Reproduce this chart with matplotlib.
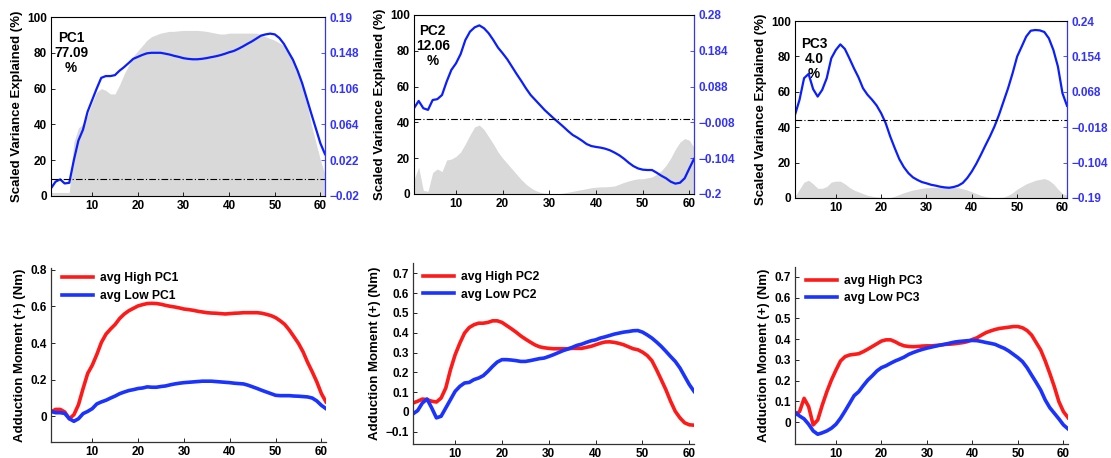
import numpy as np
import matplotlib
matplotlib.use("Agg")
import matplotlib.pyplot as plt

plt.rcParams['font.family'] = ['Liberation Sans', 'DejaVu Sans']
plt.rcParams['font.weight'] = 'bold'
plt.rcParams['axes.labelweight'] = 'bold'

frames = np.arange(1, 62)

# ---- top row: variance explained (%) and PC loading ----
pc_names = ["PC1", "PC2", "PC3"]
pc_pct = ["77.09", "12.06", "4.0"]

var1 = [2, 2, 2, 2, 2, 30, 38, 40, 45, 52, 58, 60, 59, 57, 57, 62, 68, 73, 78, 81,
        84, 87, 89, 90, 91, 91.5, 92, 92, 92.3, 92.5, 92.5, 92.5, 92.5, 92.3, 92, 91.5,
        91, 90.5, 90.5, 91, 91, 91, 91, 91, 91, 91, 90, 89, 88, 87, 85.5, 84, 81, 77,
        70, 62, 52, 40, 30, 20, 12]
var2 = [8, 15, 2, 1.5, 12, 14, 12.5, 19, 19.5, 21, 23.5, 28, 33, 37.5, 38.5, 36, 32,
        28, 23.5, 20, 17, 14, 11, 8, 5.5, 3.5, 2, 1, 0.5, 0.3, 0.2, 0.2, 0.5, 1, 1.5,
        2, 2.5, 3, 3.5, 3.8, 4, 4, 4.2, 4.5, 5.5, 6.5, 7.3, 8, 8.5, 8.5, 9, 9.5, 11,
        13, 16, 20, 25, 29, 31, 30, 26]
var3 = [1, 5, 9, 10, 8, 5.5, 5.5, 6.5, 9, 9.5, 9.5, 8, 6, 4.5, 3.5, 2.5, 1.5, 1, 0.6,
        0.4, 0.3, 0.3, 1, 2, 3, 3.8, 4.5, 5, 5.5, 5.8, 6, 6, 6, 6, 6, 6, 5.8, 5.2,
        4.5, 3.5, 2.5, 1.5, 0.8, 0.4, 0.3, 0.3, 0.5, 1.5, 3, 5, 6.5, 8, 9, 10, 10.5,
        11, 10, 8, 5, 2.5, 1.5]

load1 = [-0.011, -0.0032, -0.0005, -0.0053, -0.0045, 0.022, 0.0451, 0.0577, 0.0787,
         0.0924, 0.106, 0.1186, 0.1207, 0.1207, 0.1218, 0.127, 0.1312, 0.136, 0.1409,
         0.1432, 0.1455, 0.1474, 0.148, 0.148, 0.148, 0.147, 0.1459, 0.1444, 0.1432,
         0.1417, 0.1409, 0.1404, 0.1404, 0.1409, 0.1417, 0.1428, 0.1438, 0.1451,
         0.1467, 0.1486, 0.1501, 0.1526, 0.1554, 0.1585, 0.1614, 0.1648, 0.1682,
         0.1696, 0.1705, 0.1696, 0.1654, 0.1585, 0.149, 0.1396, 0.127, 0.1123,
         0.0945, 0.0766, 0.0592, 0.0417, 0.0291]
load2 = [0.030, 0.0496, 0.030, 0.0256, 0.052, 0.0544, 0.0654, 0.1014, 0.1326, 0.1504,
         0.1754, 0.2128, 0.2354, 0.2469, 0.2522, 0.2445, 0.231, 0.2128, 0.1926,
         0.1773, 0.161, 0.1413, 0.1216, 0.1029, 0.0832, 0.0654, 0.052, 0.0386, 0.0251,
         0.0136, 0.0021, -0.0085, -0.0195, -0.031, -0.0416, -0.0488, -0.057, -0.0661,
         -0.0714, -0.0738, -0.0757, -0.0786, -0.0829, -0.0891, -0.0963, -0.1054,
         -0.116, -0.1251, -0.1314, -0.1347, -0.1357, -0.1357, -0.1429, -0.151,
         -0.1578, -0.1669, -0.1722, -0.1698, -0.1578, -0.1314, -0.1059]
load3 = [0.0121, 0.0487, 0.1011, 0.1114, 0.0745, 0.0564, 0.0727, 0.1011, 0.1493,
         0.1695, 0.1832, 0.1721, 0.1493, 0.1252, 0.1033, 0.0766, 0.0607, 0.0487,
         0.0349, 0.016, -0.0081, -0.0404, -0.0687, -0.0954, -0.1148, -0.1294, -0.1397,
         -0.1461, -0.1513, -0.1543, -0.1578, -0.1599, -0.1625, -0.1642, -0.1651,
         -0.1633, -0.1599, -0.1535, -0.1414, -0.1255, -0.1066, -0.0851, -0.0623,
         -0.0404, -0.0163, 0.0121, 0.0444, 0.0766, 0.1132, 0.1536, 0.1777, 0.2022,
         0.2164, 0.2181, 0.2172, 0.2133, 0.1979, 0.1695, 0.1291, 0.0646, 0.034]

right_ticklabels = [
    ["\u22120.02", "0.022", "0.064", "0.106", "0.148", "0.19"],
    ["\u22120.2", "\u22120.104", "\u22120.008", "0.088", "0.184", "0.28"],
    ["\u22120.19", "\u22120.104", "\u22120.018", "0.068", "0.154", "0.24"],
]
right_lims = [(-0.02, 0.19), (-0.2, 0.28), (-0.19, 0.24)]

# ---- bottom row: adduction moment ----
high1 = [0.024, 0.038, 0.038, 0.024, -0.013, 0.009, 0.064, 0.152, 0.234, 0.279, 0.338,
         0.404, 0.449, 0.477, 0.502, 0.535, 0.559, 0.577, 0.59, 0.603, 0.61, 0.616,
         0.617, 0.616, 0.612, 0.606, 0.601, 0.597, 0.592, 0.586, 0.583, 0.579, 0.574,
         0.57, 0.566, 0.564, 0.563, 0.561, 0.559, 0.561, 0.563, 0.564, 0.566, 0.566,
         0.566, 0.566, 0.563, 0.557, 0.55, 0.539, 0.522, 0.502, 0.471, 0.435, 0.398,
         0.352, 0.294, 0.243, 0.188, 0.124, 0.079]
low1 = [0.027, 0.02, 0.02, 0.016, -0.013, -0.027, -0.013, 0.015, 0.027, 0.042, 0.068,
        0.079, 0.088, 0.1, 0.111, 0.124, 0.133, 0.141, 0.146, 0.152, 0.155, 0.161,
        0.159, 0.159, 0.163, 0.166, 0.172, 0.177, 0.181, 0.184, 0.186, 0.188, 0.19,
        0.192, 0.192, 0.192, 0.19, 0.188, 0.186, 0.184, 0.181, 0.179, 0.177, 0.17,
        0.161, 0.152, 0.142, 0.133, 0.124, 0.115, 0.113, 0.113, 0.113, 0.111, 0.11,
        0.108, 0.106, 0.1, 0.084, 0.06, 0.042]
high2 = [0.045, 0.054, 0.065, 0.062, 0.054, 0.05, 0.07, 0.121, 0.213, 0.289, 0.347,
         0.398, 0.426, 0.44, 0.448, 0.448, 0.452, 0.46, 0.46, 0.452, 0.436, 0.42,
         0.403, 0.384, 0.368, 0.353, 0.339, 0.329, 0.324, 0.321, 0.319, 0.319, 0.319,
         0.319, 0.321, 0.321, 0.321, 0.326, 0.331, 0.339, 0.347, 0.353, 0.354, 0.351,
         0.346, 0.339, 0.329, 0.319, 0.314, 0.302, 0.285, 0.259, 0.213, 0.163, 0.112,
         0.054, 0.003, -0.03, -0.055, -0.065, -0.067]
low2 = [-0.01, 0.007, 0.045, 0.065, 0.02, -0.03, -0.022, 0.02, 0.062, 0.104, 0.129,
        0.146, 0.149, 0.163, 0.171, 0.183, 0.205, 0.23, 0.252, 0.264, 0.264, 0.262,
        0.259, 0.255, 0.255, 0.259, 0.264, 0.269, 0.272, 0.28, 0.289, 0.299, 0.309,
        0.317, 0.326, 0.336, 0.342, 0.351, 0.359, 0.364, 0.373, 0.379, 0.386, 0.393,
        0.398, 0.403, 0.406, 0.41, 0.411, 0.403, 0.389, 0.373, 0.353, 0.331, 0.306,
        0.28, 0.255, 0.222, 0.18, 0.138, 0.104]
high3 = [0.035, 0.051, 0.115, 0.075, -0.013, 0.011, 0.083, 0.147, 0.203, 0.251, 0.295,
         0.316, 0.324, 0.327, 0.33, 0.34, 0.352, 0.365, 0.378, 0.391, 0.397, 0.397,
         0.388, 0.376, 0.368, 0.365, 0.364, 0.365, 0.367, 0.368, 0.368, 0.37, 0.372,
         0.375, 0.376, 0.378, 0.381, 0.384, 0.389, 0.399, 0.407, 0.42, 0.432, 0.44,
         0.447, 0.452, 0.455, 0.458, 0.461, 0.461, 0.455, 0.442, 0.42, 0.384, 0.348,
         0.295, 0.235, 0.171, 0.099, 0.051, 0.022]
low3 = [0.048, 0.03, 0.016, -0.01, -0.042, -0.058, -0.051, -0.042, -0.029, -0.01,
        0.019, 0.054, 0.091, 0.128, 0.147, 0.176, 0.203, 0.224, 0.247, 0.263, 0.272,
        0.284, 0.295, 0.304, 0.314, 0.327, 0.336, 0.344, 0.351, 0.357, 0.362, 0.367,
        0.372, 0.376, 0.381, 0.386, 0.389, 0.391, 0.393, 0.394, 0.393, 0.389, 0.384,
        0.38, 0.375, 0.365, 0.356, 0.343, 0.327, 0.311, 0.292, 0.263, 0.227, 0.192,
        0.155, 0.107, 0.07, 0.043, 0.016, -0.013, -0.032]

variances = [var1, var2, var3]
loadings = [load1, load2, load3]
highs = [high1, high2, high3]
lows = [low1, low2, low3]

W, H = 1111, 458
fig = plt.figure(figsize=(W / 100, H / 100), dpi=100)

def rect(l, r, t, b):
    return [l / W, 1 - b / H, (r - l) / W, (b - t) / H]

top_rects = [rect(51, 325, 17, 196), rect(414, 694, 15, 194), rect(795, 1067, 21, 198)]
bot_rects = [rect(51, 326, 268, 442), rect(413, 694, 263, 444), rect(795, 1068, 267, 444)]
bot_ylims = [(-0.14, 0.81), (-0.162, 0.752), (-0.105, 0.748)]
bot_yticks = [[0, 0.2, 0.4, 0.6, 0.8],
              [-0.1, 0, 0.1, 0.2, 0.3, 0.4, 0.5, 0.6, 0.7],
              [0, 0.1, 0.2, 0.3, 0.4, 0.5, 0.6, 0.7]]
bot_yticklabels = [["0", "0.2", "0.4", "0.6", "0.8"],
                   ["\u22120.1", "0", "0.1", "0.2", "0.3", "0.4", "0.5", "0.6", "0.7"],
                   ["0", "0.1", "0.2", "0.3", "0.4", "0.5", "0.6", "0.7"]]
legend_anchor = [(0.04, 0.975), (0.035, 0.955), (0.04, 0.955)]
pc_text_x = [5.4, 5.0, 5.2]
pc_text_y = [92, 95, 91]

blue_axis = '#3333ff'
spine_gray = '#333333'
fs_tick = 8.5
fs_label = 9.5

for i in range(3):
    ax = fig.add_axes(top_rects[i])
    ax.fill_between(frames, 0, variances[i], color='#d9d9d9', lw=0)
    ax.set_xlim(1, 61)
    ax.set_ylim(0, 100)
    ax.set_xticks([10, 20, 30, 40, 50, 60])
    ax.set_yticks([0, 20, 40, 60, 80, 100])
    ax.tick_params(direction='in', length=3, labelsize=fs_tick, width=0.6, pad=3)
    ax.set_ylabel("Scaled Variance Explained (%)", fontsize=fs_label, labelpad=3)
    for s in ax.spines.values():
        s.set_linewidth(0.7)
        s.set_color(spine_gray)
    ax.text(pc_text_x[i], pc_text_y[i], pc_names[i] + "\n" + pc_pct[i] + "\n%",
            ha='center', va='top', fontsize=9.8, fontweight='bold', linespacing=1.08)
    ax2 = ax.twinx()
    lo, hi = right_lims[i]
    ax2.set_ylim(lo, hi)
    ax2.plot(frames, loadings[i], color='#0a1eff', lw=1.6)
    ax2.plot([frames[0], frames[-1]], [0, 0], color='black', lw=0.8, ls=(0, (6, 2, 1, 2)))
    ax2.set_yticks(np.linspace(lo, hi, 6))
    ax2.set_yticklabels(right_ticklabels[i])
    ax2.tick_params(direction='in', length=3, labelsize=fs_tick, colors=blue_axis,
                    width=0.6, pad=3)
    ax2.spines['right'].set_color(blue_axis)
    ax2.spines['right'].set_linewidth(0.9)
    ax2.set_xlim(1, 61)

for i in range(3):
    ax = fig.add_axes(bot_rects[i])
    ax.plot(frames, highs[i], color='#ff1a1a', lw=2.6, label="avg High " + pc_names[i])
    ax.plot(frames, lows[i], color='#1a33ff', lw=2.6, label="avg Low " + pc_names[i])
    ax.set_xlim(1, 61)
    ax.set_ylim(*bot_ylims[i])
    ax.set_xticks([10, 20, 30, 40, 50, 60])
    ax.set_yticks(bot_yticks[i])
    ax.set_yticklabels(bot_yticklabels[i])
    ax.tick_params(direction='in', length=3, labelsize=fs_tick, width=0.6, pad=3)
    ax.spines['top'].set_visible(False)
    ax.spines['right'].set_visible(False)
    for side in ('left', 'bottom'):
        ax.spines[side].set_linewidth(0.9)
        ax.spines[side].set_color(spine_gray)
    ax.set_ylabel("Adduction Moment (+) (Nm)", fontsize=fs_label, labelpad=3)
    ax.legend(loc='upper left', frameon=False, handlelength=2.6, handletextpad=0.55,
              borderaxespad=0.0, borderpad=0.0, labelspacing=0.45,
              prop={'weight': 'bold', 'size': 8.7},
              bbox_to_anchor=legend_anchor[i])

fig.savefig("out.png", dpi=100)
